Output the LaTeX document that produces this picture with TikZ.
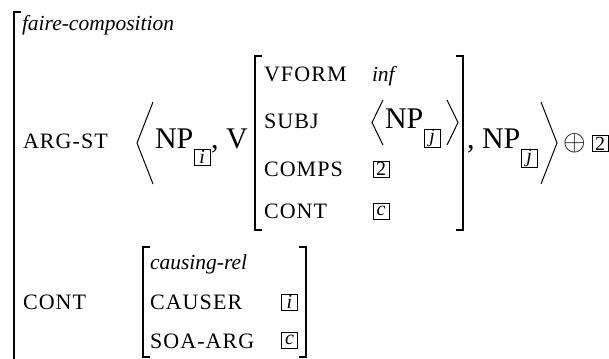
\documentclass[tikz,border=0pt]{standalone}
\usepackage{fontspec}
\usepackage{graphicx}
\setmainfont{Liberation Serif}
\tikzset{
  lbl/.style={anchor=base west, inner sep=0pt, outer sep=0pt},
  attr/.style={lbl, font=\fontsize{22}{22}\selectfont\addfontfeature{LetterSpace=5}},
  typ/.style={lbl, font=\fontsize{21.5}{21.5}\selectfont\itshape},
  big/.style={lbl, font=\fontsize{30}{30}\selectfont},
  tag/.style={draw, line width=0.7pt, inner sep=0pt, minimum width=16pt, minimum height=16pt, font=\fontsize{20}{20}\selectfont\itshape},
  tagup/.style={tag, font=\fontsize{20}{20}\selectfont},
  brk/.style={line width=1.4pt},
  obrk/.style={line width=1.8pt},
  ang/.style={line width=1pt, line join=miter}
}
\begin{document}
\begin{tikzpicture}[x=1pt,y=-1pt]
\useasboundingbox (0,0) rectangle (609,358);
% outer bracket
\draw[obrk] (21,12) -- (14,12) -- (14,360);
\node[typ] (type) at (22,31) {faire-composition};
% ARG-ST row
\node[attr] (argst) at (23,149) {ARG-ST};
\draw[ang] (153,102) -- (137,143) -- (153,184);
\node[big] (np1) at (155,149) {NP};
\node[tag, anchor=north west] (bi1) at ([xshift=0.5pt]np1.base east) {i};
\node[big] (v) at ([xshift=0.5pt]bi1.north east |- np1.base) {, V};
% inner matrix
\draw[brk] (262,56) -- (255,56) -- (255,230) -- (262,230);
\draw[brk] (456,56) -- (463,56) -- (463,230) -- (456,230);
\node[attr] (vform) at (264,82) {VFORM};
\node[typ] (inf) at (372,82) {inf};
\node[attr] (subj) at (264,129) {SUBJ};
\draw[ang] (383,100) -- (372,122.5) -- (383,145);
\node[big] (np2) at (385,129) {NP};
\node[tag, anchor=north west, minimum height=18pt] (bj1) at ([xshift=0.5pt]np2.base east) {j};
\draw[ang] (447,100) -- (458,122.5) -- (447,145);
\node[attr] (comps) at (264,176) {COMPS};
\node[tagup] (b2a) at (381,169) {2};
\node[attr] (cont1) at (264,218) {CONT};
\node[tag] (bc1) at (381,211) {c};
% after inner matrix
\node[big] (np3) at (467,149) {, NP};
\node[tag, anchor=north west, minimum height=18pt] (bj2) at ([xshift=0.5pt]np3.base east) {j};
\draw[ang] (541,102) -- (557,143) -- (541,184);
\node[inner sep=0pt] (oplus) at (575,143) {\scalebox{2.9}{$\oplus$}};
\node[tagup] (b2b) at (600,143.5) {2};
% CONT row
\node[attr] (cont2) at (23,309) {CONT};
\draw[brk] (150,247) -- (143,247) -- (143,357) -- (150,357);
\draw[brk] (299,247) -- (306,247) -- (306,357) -- (299,357);
\node[typ] (crel) at (150,269) {causing-rel};
\node[attr] (causer) at (150,309) {CAUSER};
\node[tag] (bi2) at (289.5,302) {i};
\node[attr] (soa) at (150,348) {SOA-ARG};
\node[tag] (bc2) at (289.5,340) {c};
\end{tikzpicture}
\end{document}
